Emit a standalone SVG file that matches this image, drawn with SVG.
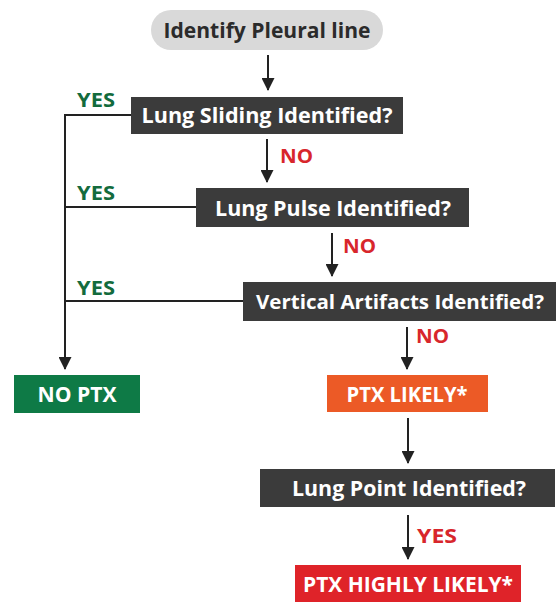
<svg xmlns="http://www.w3.org/2000/svg" width="558" height="602" viewBox="0 0 558 602">
<defs>
<marker id="ah" viewBox="0 0 13 13" refX="12" refY="6.5" markerWidth="13" markerHeight="13" markerUnits="userSpaceOnUse" orient="auto">
<path d="M0,0 L13,6.5 L0,13 Z" fill="#222"/>
</marker>
<style>
.box{fill:#3b3b3b}
.t{font-family:"Open Sans","Liberation Sans",sans-serif;font-weight:700;font-size:22px;fill:#fff;text-anchor:middle}
.lbl{font-family:"Open Sans","Liberation Sans",sans-serif;font-weight:700;font-size:20px}
.yes{fill:#136b3d}
.no{fill:#d8262c}
.c{stroke:#222;stroke-width:2;fill:none}
.a{marker-end:url(#ah)}
</style>
</defs>
<rect width="558" height="602" fill="#fff"/>
<g id="connectors">
<line class="c a" x1="268" y1="55" x2="268" y2="90"/>
<line class="c a" x1="267" y1="139" x2="267" y2="182"/>
<line class="c a" x1="332" y1="233" x2="332" y2="276"/>
<line class="c a" x1="407" y1="327" x2="407" y2="369"/>
<line class="c a" x1="408" y1="418" x2="408" y2="463"/>
<line class="c a" x1="408" y1="515" x2="408" y2="559"/>
<polyline class="c a" points="131,115 65,115 65,369"/>
<line class="c" x1="196" y1="207" x2="65" y2="207"/>
<line class="c" x1="243" y1="301" x2="65" y2="301"/>
<text class="lbl yes" x="77" y="107" textLength="38" lengthAdjust="spacingAndGlyphs">YES</text>
<text class="lbl yes" x="77" y="200" textLength="38" lengthAdjust="spacingAndGlyphs">YES</text>
<text class="lbl yes" x="77" y="295" textLength="38" lengthAdjust="spacingAndGlyphs">YES</text>
<text class="lbl no" x="280" y="163" textLength="33" lengthAdjust="spacingAndGlyphs">NO</text>
<text class="lbl no" x="343" y="253" textLength="33" lengthAdjust="spacingAndGlyphs">NO</text>
<text class="lbl no" x="416" y="343" textLength="33" lengthAdjust="spacingAndGlyphs">NO</text>
<text class="lbl no" x="417" y="543" textLength="40" lengthAdjust="spacingAndGlyphs">YES</text>
</g>
<g id="start">
<rect x="151" y="10" width="232" height="40" rx="20" fill="#d9d9d9"/>
<text class="t" x="267" y="37.5" style="fill:#2b2b2b" textLength="207" lengthAdjust="spacingAndGlyphs">Identify Pleural line</text>
</g>
<g id="sliding">
<rect class="box" x="131" y="97" width="272" height="37"/>
<text class="t" x="267" y="122.5" textLength="251" lengthAdjust="spacingAndGlyphs">Lung Sliding Identified?</text>
</g>
<g id="pulse">
<rect class="box" x="196" y="188" width="273" height="39"/>
<text class="t" x="333" y="215.5" textLength="236" lengthAdjust="spacingAndGlyphs">Lung Pulse Identified?</text>
</g>
<g id="vertical">
<rect class="box" x="243" y="282" width="313" height="39"/>
<text class="t" x="400" y="309" style="font-size:20px" textLength="288" lengthAdjust="spacingAndGlyphs">Vertical Artifacts Identified?</text>
</g>
<g id="noptx">
<rect x="14" y="375" width="126" height="38" fill="#0e7a46"/>
<text class="t" x="77" y="401.5" textLength="79" lengthAdjust="spacingAndGlyphs">NO PTX</text>
</g>
<g id="ptxlikely">
<rect x="327" y="375" width="161" height="37" fill="#ec5a26"/>
<text class="t" x="407" y="401.5" textLength="121" lengthAdjust="spacingAndGlyphs">PTX LIKELY*</text>
</g>
<g id="lungpoint">
<rect class="box" x="260" y="469" width="295" height="38"/>
<text class="t" x="409" y="495.5" textLength="234" lengthAdjust="spacingAndGlyphs">Lung Point Identified?</text>
</g>
<g id="ptxhighly">
<rect x="295" y="565" width="226" height="37" fill="#df2329"/>
<text class="t" x="408" y="591.5" textLength="210" lengthAdjust="spacingAndGlyphs">PTX HIGHLY LIKELY*</text>
</g>
</svg>
